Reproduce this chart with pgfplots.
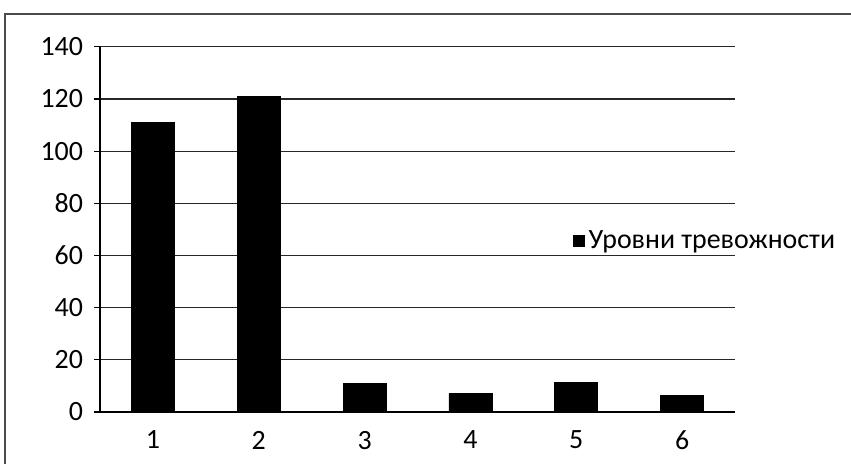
\documentclass[border=0pt]{standalone}
\usepackage{fontspec}
\setmainfont{Carlito}
\usepackage{pgfplots}
\pgfplotsset{compat=1.18}
\begin{document}
\begin{tikzpicture}
\useasboundingbox (-50bp,-26bp) rectangle (375.5bp,206bp);
\draw[black!70, line width=0.6bp] (-47.5bp,-26bp) -- (-47.5bp,199bp) -- (375.5bp,199bp);
\begin{axis}[
  at={(0,0)}, anchor=south west,
  scale only axis, width=317.5bp, height=182.6bp,
  xmin=0.5, xmax=6.5, ymin=0, ymax=140,
  axis x line*=bottom, axis y line*=left,
  axis line style={black, line width=0.6bp},
  ytick={0,20,...,140},
  xtick={1,...,6},
  minor xtick={0.5,1.5,...,6.5},
  tick align=outside,
  major tick length=3bp,
  minor tick length=4.5bp,
  xtick style={draw=none},
  minor tick style={black, line width=0.6bp},
  ytick style={black, line width=0.6bp},
  ymajorgrids, grid style={black!85, line width=0.6bp},
  /pgf/number format/assume math mode=true,
  tick label style={font=\fontsize{14}{16}\selectfont},
  xticklabel style={yshift=-3bp},
  yticklabel style={xshift=-2bp},
  ybar, bar width=21.5bp,
  legend style={draw=none, fill=none, at={(rel axis cs:0.745,0.468)}, anchor=west,
    font=\fontsize{14}{16}\selectfont, inner sep=0pt},
  legend image code/.code={\fill[black] (0bp,-2.6bp) rectangle (5.2bp,2.6bp); \path (4.6bp,0bp);},
]
\addplot[fill=black, draw=black] coordinates {(1,111) (2,121) (3,11) (4,7) (5,11.5) (6,6.5)};
\legend{Уровни тревожности}
\end{axis}
\end{tikzpicture}
\end{document}
